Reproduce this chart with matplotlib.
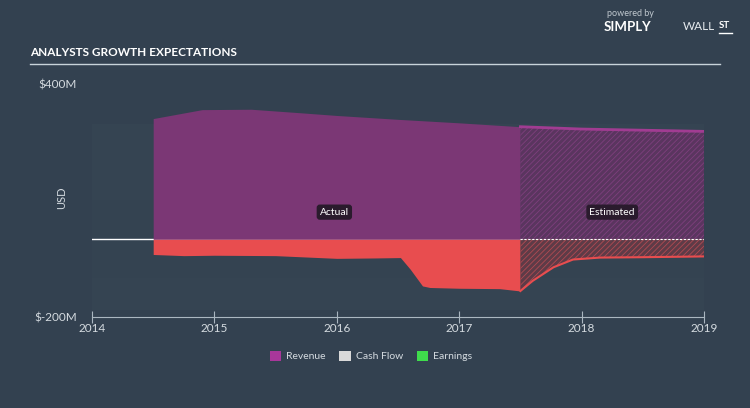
import matplotlib
matplotlib.use("Agg")
import matplotlib.pyplot as plt
from matplotlib import font_manager as fm
from matplotlib.patches import Patch
import numpy as np

# ---------------- data ----------------
revenue_years = [2014.5, 2014.9, 2015.3, 2015.7, 2016.0, 2016.5, 2017.0, 2017.5, 2018.0, 2018.5, 2019.0]
revenue = [311, 334, 335, 326, 319, 309, 300, 290, 284, 281, 278]

cash_years = [2014.5, 2014.75, 2015.0, 2015.5, 2016.0, 2016.3, 2016.52, 2016.6, 2016.7, 2016.76,
              2017.0, 2017.33, 2017.5, 2017.6, 2017.77, 2017.93, 2018.15, 2018.5, 2019.0]
cash_flow = [-39, -42, -41, -42, -49, -48, -47, -77, -120, -124,
             -126, -127, -133, -107, -72, -52, -47, -46, -44]

split_year = 2017.5
x_ticks = [2014, 2015, 2016, 2017, 2018, 2019]
y_ticks = [-200, 400]
y_tick_labels = ["$-200M", "$400M"]
legend_labels = ["Revenue", "Cash Flow", "Earnings"]

# ---------------- style ----------------
avail = {f.name for f in fm.fontManager.ttflist}
base_font = "Lato" if "Lato" in avail else "DejaVu Sans"
title_font = "Liberation Sans Narrow" if "Liberation Sans Narrow" in avail else base_font
plt.rcParams["font.family"] = [base_font, "DejaVu Sans"]
plt.rcParams["hatch.linewidth"] = 0.6

BG = "#334150"
REV = "#7b3775"
REV_EST = "#5a355f"
REV_LINE = "#a13c92"
CF = "#e84d4f"
CF_EST = "#5e3b47"
TXT = "#d5dbe0"

fig = plt.figure(figsize=(7.5, 4.08), dpi=100, facecolor=BG)
ax = fig.add_axes([92 / 750, 1 - 317 / 408, (704 - 92) / 750, (317 - 84) / 408])
ax.set_facecolor(BG)
ax.set_xlim(2014, 2019)
ax.set_ylim(-200, 400)

# subtle background bands
ax.axhspan(100, 298, xmin=0, xmax=1.002, color="#354452", zorder=0, lw=0)
ax.axhspan(-100, 100, xmin=0, xmax=1.002, color="#344351", zorder=0, lw=0)
ax.axhspan(-182, -100, xmin=0, xmax=1.002, color="#354452", zorder=0, lw=0)

ry = np.array(revenue_years); rv = np.array(revenue, dtype=float)
cy = np.array(cash_years); cv = np.array(cash_flow, dtype=float)

ra = ry <= split_year; re_ = ry >= split_year
ca = cy <= split_year; ce = cy >= split_year

# zero line
ax.plot([2014, 2019], [0, 0], color="white", lw=1.0, zorder=1)

# actual fills
ax.fill_between(ry[ra], 0, rv[ra], color=REV, lw=0, zorder=2)
ax.fill_between(cy[ca], cv[ca], 0, color=CF, lw=0, zorder=2)

# estimated fills
ax.fill_between(ry[re_], 0, rv[re_], facecolor=REV_EST, edgecolor="#7e3f7d", hatch="//////", lw=0, zorder=2)
ax.fill_between(cy[ce], cv[ce], 0, facecolor=CF_EST, edgecolor="#b04a52", hatch="//////", lw=0, zorder=2)
ax.plot(ry[re_], rv[re_], color=REV_LINE, lw=2, zorder=3)
ax.plot(cy[ce], cv[ce], color=CF, lw=1.5, zorder=3)
ax.plot([split_year, 2019], [0, 0], color="white", lw=0.8, ls=(0, (2, 1.5)), zorder=3)

# labels
box = dict(boxstyle="round,pad=0.3", fc="#2a1b2d", ec="none")
ax.text(2015.98, 70, "Actual", color="white", fontsize=7.5, ha="center", va="center", bbox=box, zorder=5)
ax.text(2018.25, 70, "Estimated", color="white", fontsize=7.5, ha="center", va="center", bbox=box, zorder=5)

# axes styling
for s in ["top", "right", "left"]:
    ax.spines[s].set_visible(False)
ax.spines["bottom"].set_color("#aab6c0")
ax.spines["bottom"].set_linewidth(0.8)
ax.set_xticks(x_ticks)
ax.set_xticklabels([str(t) for t in x_ticks])
ax.tick_params(axis="x", colors="#aab6c0", direction="inout", length=8, width=0.8,
               labelcolor=TXT, labelsize=8.5, pad=0)
ax.set_yticks(y_ticks)
ax.set_yticklabels(y_tick_labels)
ax.tick_params(axis="y", length=0, labelcolor=TXT, labelsize=8.5, pad=11)
ax.text(-0.05, 0.51, "USD", transform=ax.transAxes, rotation=90, color=TXT,
        fontsize=8, ha="center", va="center")

# title and rule
fig.text(30 / 750, 1 - 53 / 408, "ANALYSTS GROWTH EXPECTATIONS", color="white",
         fontsize=8.5, fontweight="bold", family=[title_font, "DejaVu Sans"], ha="left", va="center")
fig.add_artist(plt.Line2D([30 / 750, 720 / 750], [1 - 64 / 408] * 2, color="#c8d3da", lw=1.0))

# logo text
fig.text(607 / 750, 1 - 14 / 408, "powered by", color="#c0c8cf", fontsize=6.5, ha="left", va="center")
fig.text(604 / 750, 1 - 27 / 408, "SIMPLY", color="white", fontsize=9.5, fontweight="bold", ha="left", va="center")
fig.text(683 / 750, 1 - 27 / 408, "WALL", color="#e6eaee", fontsize=8.5, ha="left", va="center")
fig.text(719 / 750, 1 - 26 / 408, "ST", color="white", fontsize=7, fontweight="bold", ha="left", va="center")
fig.add_artist(plt.Line2D([719 / 750, 732 / 750], [1 - 33 / 408] * 2, color="white", lw=1.0))

# legend
handles = [Patch(facecolor="#a8379a", edgecolor="none"),
           Patch(facecolor="#d9d9d9", edgecolor="none"),
           Patch(facecolor="#3fdc4c", edgecolor="none")]
leg = fig.legend(handles, legend_labels, loc="center", bbox_to_anchor=(371 / 750, 1 - 356 / 408),
                 ncol=3, frameon=False, fontsize=7.5, handlelength=1.1, handleheight=1.1,
                 columnspacing=1.3, handletextpad=0.5, labelcolor=TXT)

fig.savefig("out.png", dpi=100, facecolor=BG)
